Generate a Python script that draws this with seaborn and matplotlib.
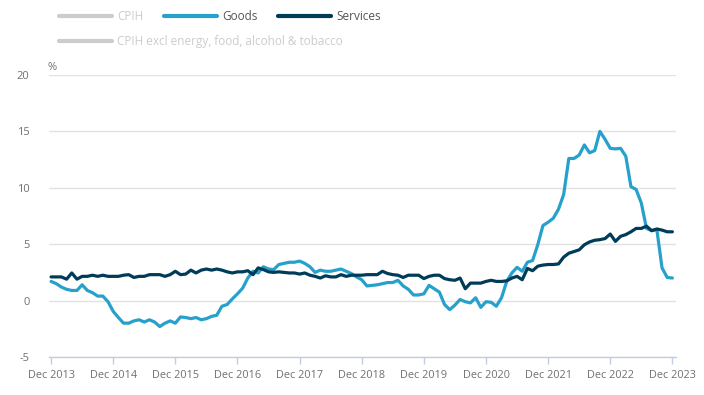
import numpy as np
import pandas as pd
import matplotlib
matplotlib.use("Agg")
import matplotlib.pyplot as plt
from matplotlib.lines import Line2D
import seaborn as sns

# Annual rate (%), monthly Dec 2013 .. Dec 2023
goods = [1.7, 1.5, 1.2, 1.0, 0.9, 0.9, 1.4, 0.9, 0.7, 0.4, 0.4, -0.1,
         -0.95, -1.5, -2.0, -2.0, -1.8, -1.7, -1.9, -1.7, -1.9, -2.3, -2.0, -1.8,
         -2.0, -1.45, -1.5, -1.6, -1.5, -1.7, -1.6, -1.4, -1.3, -0.5, -0.35, 0.15,
         0.6, 1.1, 2.0, 2.6, 2.45, 3.0, 2.8, 2.75, 3.2, 3.3, 3.4, 3.4,
         3.5, 3.3, 3.0, 2.5, 2.7, 2.6, 2.6, 2.7, 2.8, 2.6, 2.4, 2.1,
         1.85, 1.3, 1.35, 1.4, 1.5, 1.6, 1.6, 1.8, 1.3, 1.0, 0.5, 0.5,
         0.6, 1.35, 1.05, 0.75, -0.35, -0.8, -0.4, 0.1, -0.1, -0.2, 0.25, -0.6,
         -0.1, -0.15, -0.5, 0.25, 1.7, 2.45, 2.95, 2.6, 3.4, 3.55, 4.95, 6.65,
         6.95, 7.3, 8.1, 9.4, 12.6, 12.6, 12.9, 13.8, 13.1, 13.3, 15.0, 14.3,
         13.5, 13.45, 13.5, 12.8, 10.1, 9.85, 8.65, 6.4, 6.2, 6.3, 2.9, 2.05,
         2.0]
services = [2.1, 2.1, 2.1, 1.9, 2.45, 1.9, 2.15, 2.15, 2.25, 2.15, 2.25, 2.15,
            2.15, 2.15, 2.25, 2.3, 2.05, 2.15, 2.15, 2.3, 2.3, 2.3, 2.15, 2.3,
            2.6, 2.3, 2.35, 2.7, 2.45, 2.7, 2.8, 2.7, 2.8, 2.7, 2.55, 2.45,
            2.55, 2.55, 2.65, 2.3, 2.9, 2.75, 2.55, 2.5, 2.55, 2.5, 2.45, 2.45,
            2.35, 2.45, 2.25, 2.15, 2.0, 2.2, 2.1, 2.1, 2.3, 2.15, 2.25, 2.25,
            2.25, 2.3, 2.3, 2.3, 2.6, 2.4, 2.3, 2.25, 2.05, 2.25, 2.25, 2.25,
            1.95, 2.15, 2.25, 2.25, 1.95, 1.85, 1.8, 2.0, 1.05, 1.55, 1.55, 1.55,
            1.7, 1.8, 1.7, 1.7, 1.75, 2.0, 2.15, 1.85, 2.85, 2.65, 3.05, 3.15,
            3.2, 3.2, 3.25, 3.85, 4.2, 4.35, 4.5, 4.95, 5.2, 5.35, 5.4, 5.5,
            5.9, 5.25, 5.7, 5.85, 6.1, 6.4, 6.4, 6.6, 6.2, 6.35, 6.25, 6.1,
            6.1]
tick_labels = ["Dec 2013", "Dec 2014", "Dec 2015", "Dec 2016", "Dec 2017", "Dec 2018",
               "Dec 2019", "Dec 2020", "Dec 2021", "Dec 2022", "Dec 2023"]

months = np.arange(len(goods))
df = pd.DataFrame({
    "month": np.concatenate([months, months]),
    "rate": goods + services,
    "series": ["Goods"] * len(goods) + ["Services"] * len(services),
})

colors = {"Goods": "#27a0cc", "Services": "#003c57"}
grey = "#cccccc"

sns.set_theme(style="white")
plt.rcParams['font.family'] = ['Open Sans', 'DejaVu Sans']
plt.rcParams['axes.unicode_minus'] = False

fig = plt.figure(figsize=(7.04, 3.95), dpi=100)
ax = fig.add_axes([49 / 704, 38 / 395, 627 / 704, 282 / 395])

sns.lineplot(data=df, x="month", y="rate", hue="series", palette=colors,
             linewidth=2.3, legend=False, ax=ax)

ax.set_xlim(-0.4, 120.7)
ax.set_ylim(-5, 20)
ax.set_yticks([-5, 0, 5, 10, 15, 20])
ax.set_xticks(np.arange(0, 121, 12))
ax.set_xticklabels(tick_labels)
ax.set_xlabel("")
ax.set_ylabel("")

ax.grid(axis="y", color="#e2e2e2", linewidth=1)
ax.grid(axis="x", visible=False)
for side in ["top", "right", "left"]:
    ax.spines[side].set_visible(False)
ax.spines["bottom"].set_color("#c3cde0")
ax.spines["bottom"].set_linewidth(1)
ax.tick_params(axis="y", length=0, pad=14, labelsize=8, labelcolor="#707070")
ax.tick_params(axis="x", length=5, width=1, color="#c3cde0", pad=4,
               labelsize=7.8, labelcolor="#707070", bottom=True)

fig.text(48 / 704, 1 - 67 / 395, "%", fontsize=8, color="#707070", va="center")

# legend (two rows)
h_cpih = Line2D([], [], color=grey, linewidth=3)
h_goods = Line2D([], [], color=colors["Goods"], linewidth=3)
h_serv = Line2D([], [], color=colors["Services"], linewidth=3)
leg_kw = dict(loc="center left", frameon=False, fontsize=8.5, handlelength=4.5,
              handletextpad=0.42, columnspacing=1.75, borderaxespad=0, borderpad=0)
leg1 = fig.legend([h_cpih, h_goods, h_serv], ["CPIH", "Goods", "Services"],
                  bbox_to_anchor=(59 / 704, 1 - 17 / 395), ncol=3, **leg_kw)
leg1.get_texts()[0].set_color(grey)
for t in leg1.get_texts()[1:]:
    t.set_color("#555555")
leg2 = fig.legend([h_cpih], ["CPIH excl energy, food, alcohol & tobacco"],
                  bbox_to_anchor=(59 / 704, 1 - 42 / 395), **leg_kw)
leg2.get_texts()[0].set_color(grey)

fig.savefig("out.png", dpi=100)
